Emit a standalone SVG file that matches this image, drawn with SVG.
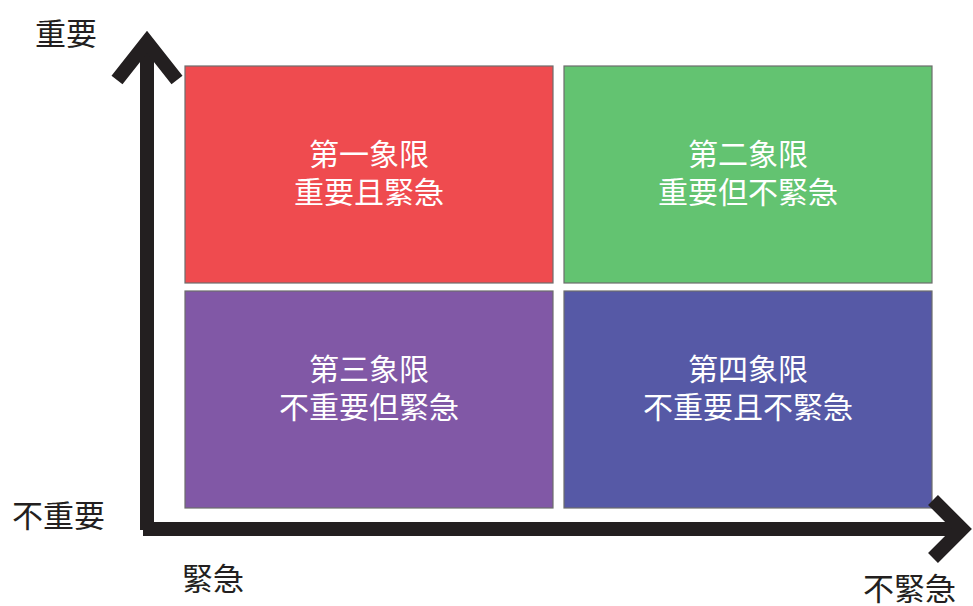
<svg xmlns="http://www.w3.org/2000/svg" width="973" height="606" viewBox="0 0 973 606">
<style>
.q{stroke:#6d6d6d;stroke-width:1.2}
.qt{font-family:"Noto Sans CJK TC","Noto Sans CJK SC",sans-serif;font-size:30px;fill:#ffffff;text-anchor:middle}
.lb{font-family:"Noto Sans CJK TC","Noto Sans CJK SC",sans-serif;font-size:31px;fill:#231f20}
.ax{fill:none;stroke:#231f20;stroke-width:14}
</style>
<rect width="973" height="606" fill="#ffffff"/>
<g id="q1">
<rect class="q" x="185" y="66" width="368" height="217" fill="#EF4B4F"/>
<text class="qt" x="369" y="165">第一象限</text>
<text class="qt" x="369" y="203">重要且緊急</text>
</g>
<g id="q2">
<rect class="q" x="564" y="66" width="368" height="217" fill="#63C371"/>
<text class="qt" x="748" y="165">第二象限</text>
<text class="qt" x="748" y="203">重要但不緊急</text>
</g>
<g id="q3">
<rect class="q" x="185" y="291" width="368" height="217" fill="#8158A6"/>
<text class="qt" x="369" y="380">第三象限</text>
<text class="qt" x="369" y="418">不重要但緊急</text>
</g>
<g id="q4">
<rect class="q" x="564" y="291" width="368" height="217" fill="#5659A6"/>
<text class="qt" x="748" y="380">第四象限</text>
<text class="qt" x="748" y="418">不重要且不緊急</text>
</g>
<g id="axes">
<path class="ax" d="M147,530 L147,40"/>
<path class="ax" d="M117,80 L147,42 L177,80"/>
<path class="ax" d="M143,529 L960,529"/>
<path class="ax" d="M933,500 L962,529 L933,558"/>
</g>
<g id="labels">
<text class="lb" x="35" y="45">重要</text>
<text class="lb" x="12" y="527">不重要</text>
<text class="lb" x="182" y="590">緊急</text>
<text class="lb" x="863" y="600">不緊急</text>
</g>
</svg>
